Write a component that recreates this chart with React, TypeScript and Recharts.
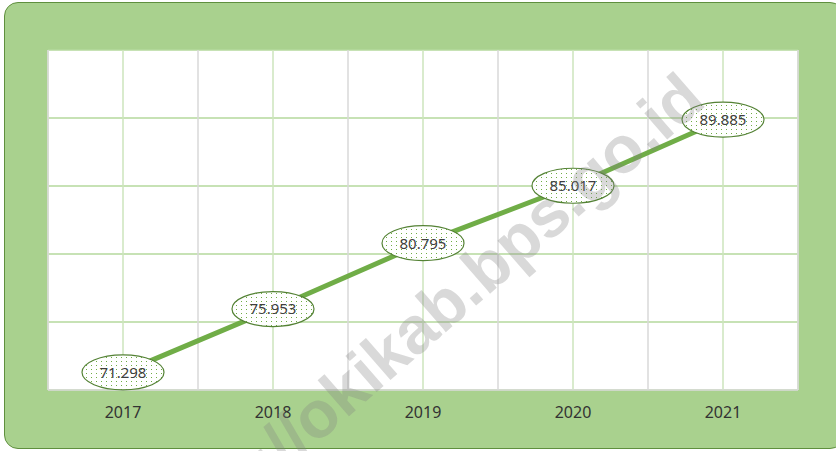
import React from "react";
import { CartesianGrid, LabelList, Line, LineChart, ReferenceLine, XAxis, YAxis } from "recharts";

const years = ["2017", "2018", "2019", "2020", "2021"];
const values = [71.298, 75.953, 80.795, 85.017, 89.885];
const valueLabels = ["71.298", "75.953", "80.795", "85.017", "89.885"];
const yTicks = [70, 75, 80, 85, 90, 95];

const data = years.map((year, i) => ({ i, year, value: values[i], label: valueLabels[i] }));
const boundaries = [...years.map((_, i) => i - 0.5), years.length - 0.5];

const font = "'Noto Sans', 'Open Sans', sans-serif";

function BubbleLabel(props: { x?: number; y?: number; index?: number }) {
  const { x, y, index } = props;
  if (x == null || y == null || index == null) return null;
  return (
    <g>
      <ellipse cx={x} cy={y} rx={41} ry={17.5} fill="#fff" />
      <ellipse cx={x} cy={y} rx={41} ry={17.5} fill="url(#dots)" stroke="#548235" strokeWidth={1.2} />
      <text x={x} y={y} dy="0.36em" textAnchor="middle" fontSize={15} fill="#404040" fontFamily={font}>
        {valueLabels[index]}
      </text>
    </g>
  );
}

export default function App() {
  return (
    <div style={{ position: "absolute", left: 0, top: 0, width: 836, height: 451, overflow: "hidden", background: "#fff" }}>
      <div
        style={{
          position: "absolute",
          left: 4,
          top: 2,
          width: 840,
          height: 447,
          background: "#a9d18e",
          border: "1px solid #5f8f3e",
          borderRadius: 14,
          boxSizing: "border-box",
        }}
      />
      <div style={{ position: "absolute", left: 0, top: 0 }}>
        <LineChart width={836} height={451} data={data} margin={{ top: 50, right: 38, left: 48, bottom: 31 }}>
          <defs>
            <pattern id="dots" width={5} height={4} patternUnits="userSpaceOnUse">
              <rect x={1} y={1} width={1} height={1} fill="#70ad47" />
            </pattern>
          </defs>
          <CartesianGrid vertical={false} stroke="#b5d99d" strokeWidth={1.5} fill="#fff" fillOpacity={1} />
          <CartesianGrid horizontal={false} stroke="#cde5bd" strokeWidth={1.5} />
          {boundaries.map((b) => (
            <ReferenceLine key={b} x={b} stroke="#d9d9d9" strokeWidth={1.5} />
          ))}
          <XAxis
            type="number"
            dataKey="i"
            domain={[-0.5, years.length - 0.5]}
            ticks={years.map((_, i) => i)}
            tickFormatter={(i: number) => years[i]}
            axisLine={{ stroke: "#d9d9d9", strokeWidth: 1.5 }}
            tickLine={false}
            tickMargin={11}
            tick={{ fill: "#333333", fontSize: 16, fontFamily: font }}
          />
          <YAxis hide domain={[70, 95]} ticks={yTicks} />
          <Line
            type="linear"
            dataKey="value"
            stroke="#70ad47"
            strokeWidth={5}
            dot={false}
            activeDot={false}
            isAnimationActive={false}
          >
            <LabelList dataKey="value" content={(p: any) => <BubbleLabel {...p} />} />
          </Line>
        </LineChart>
      </div>
      <svg width={836} height={451} style={{ position: "absolute", left: 0, top: 0, pointerEvents: "none" }}>
        <text
          x={708}
          y={104}
          textAnchor="end"
          transform="rotate(-41 708 104)"
          fontSize={66}
          fontWeight="bold"
          fontFamily="'Liberation Sans', Arial, sans-serif"
          fill="#808080"
          fillOpacity={0.3}
        >
          https://okikab.bps.go.id
        </text>
      </svg>
    </div>
  );
}
